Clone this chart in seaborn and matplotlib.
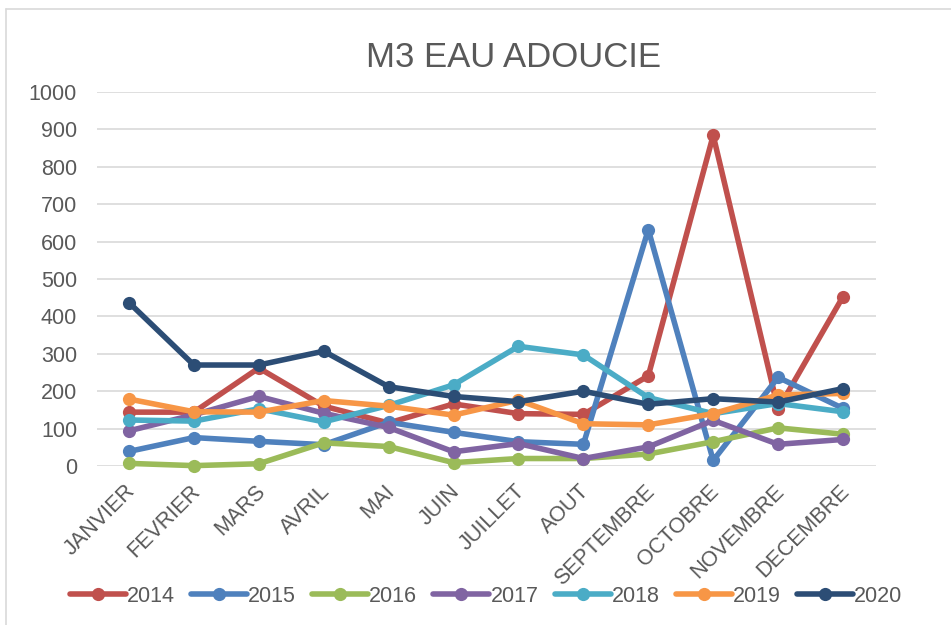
import numpy as np
import pandas as pd
import matplotlib.pyplot as plt
import matplotlib.transforms as mtransforms
from matplotlib.lines import Line2D
import seaborn as sns

mois = ['JANVIER', 'FEVRIER', 'MARS', 'AVRIL', 'MAI', 'JUIN', 'JUILLET',
        'AOUT', 'SEPTEMBRE', 'OCTOBRE', 'NOVEMBRE', 'DECEMBRE']
annees = ['2014', '2015', '2016', '2017', '2018', '2019', '2020']

v2014 = [144, 144, 262, 160, 115, 166, 140, 138, 241, 884, 152, 453]
v2015 = [39, 76, 66, 57, 117, 90, 65, 58, 632, 15, 237, 154]
v2016 = [7, 1, 6, 62, 52, 9, 20, 20, 32, 65, 102, 85]
v2017 = [94, 137, 186, 141, 103, 38, 60, 20, 51, 122, 58, 71]
v2018 = [123, 120, 153, 118, 162, 217, 320, 297, 183, 140, 167, 145]
v2019 = [179, 145, 144, 175, 160, 136, 176, 113, 110, 140, 190, 194]
v2020 = [437, 270, 270, 307, 212, 186, 172, 200, 165, 180, 171, 207]

couleurs = ['#C0504D', '#4F81BD', '#9BBB59', '#8064A2', '#4BACC6', '#F79646', '#2C4D75']

valeurs = [v2014, v2015, v2016, v2017, v2018, v2019, v2020]
df = pd.DataFrame({
    'mois': np.tile(np.arange(len(mois)), len(annees)),
    'annee': np.repeat(annees, len(mois)),
    'valeur': np.concatenate(valeurs),
})

sns.set_style('white')
plt.rcParams['font.family'] = ['Liberation Sans', 'DejaVu Sans']
gris = '#595959'

fig = plt.figure(figsize=(9.51, 6.25), dpi=100)
ax = fig.add_axes([96.5 / 951, 1 - 466 / 625, 779 / 951, 374 / 625])

sns.lineplot(data=df, x='mois', y='valeur', hue='annee', palette=couleurs,
             marker='o', markersize=9.5, markeredgewidth=0, linewidth=4,
             ax=ax, clip_on=False, zorder=3)

ax.set_xlim(-0.5, len(mois) - 0.5)
ax.set_ylim(0, 1000)
ax.set_yticks(range(0, 1001, 100))
ax.set_xticks(range(len(mois)))
ax.set_xticklabels(mois, rotation=45, ha='right', va='center',
                   rotation_mode='anchor')
ax.tick_params(axis='both', length=0, labelsize=15.5, labelcolor=gris)
ax.tick_params(axis='y', pad=14)
ax.tick_params(axis='x', pad=16)
# petit décalage vers la droite des mois
decal = mtransforms.ScaledTranslation(3 / 100, 0, fig.dpi_scale_trans)
for lab in ax.get_xticklabels():
    lab.set_transform(lab.get_transform() + decal)
ax.set_xlabel('')
ax.set_ylabel('')
ax.yaxis.grid(True, color='#D9D9D9', linewidth=1.2)
ax.set_axisbelow(True)
for s in ax.spines.values():
    s.set_visible(False)

handles, labels = ax.get_legend_handles_labels()
ax.get_legend().remove()
fig.legend(handles, labels, loc='center', bbox_to_anchor=(486 / 951, 1 - 596 / 625),
           ncol=7, frameon=False, fontsize=15.5, labelcolor=gris,
           handlelength=2.6, handletextpad=0.05, columnspacing=0.75)

fig.text(514 / 951, 1 - 66.7 / 625, 'M3 EAU ADOUCIE', ha='center', va='baseline',
         fontsize=25, color=gris)

# cadre du graphique (seuls bords gauche et haut visibles)
fig.add_artist(Line2D([6 / 951, 6 / 951], [0, 1 - 9 / 625], transform=fig.transFigure,
                      color='#D9D9D9', linewidth=1.2))
fig.add_artist(Line2D([6 / 951, 1], [1 - 9 / 625, 1 - 9 / 625], transform=fig.transFigure,
                      color='#D9D9D9', linewidth=1.2))

fig.savefig('out.png', dpi=100)
